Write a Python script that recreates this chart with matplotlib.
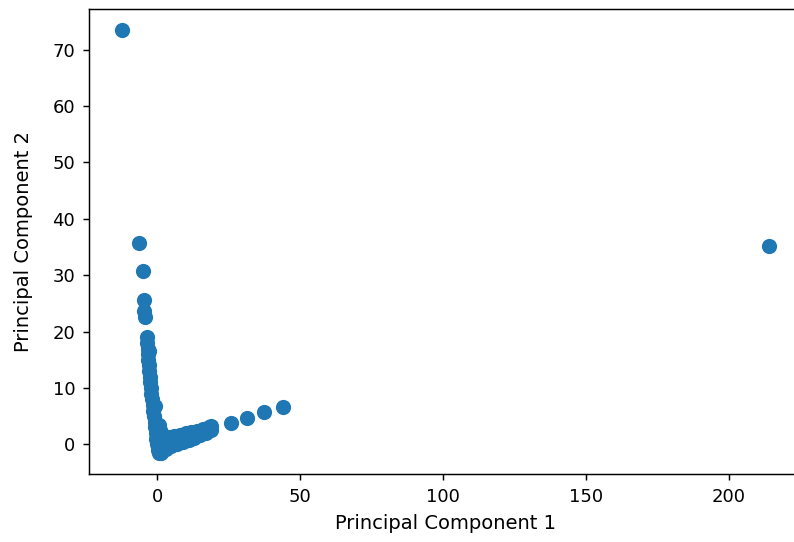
import matplotlib
matplotlib.use("Agg")
import matplotlib.pyplot as plt

# ==== data ====
outliers_x = [-12.4, 214.1, -6.5, -5.0, -4.5, -4.5, -4.4]
outliers_y = [73.4, 35.1, 35.7, 30.8, 25.6, 23.7, 22.5]

column_x = [-3.6, -3.4, -3.3, -2.8, -3.2, -3.1, -2.9, -2.7, -2.5, -2.4, -2.2, -2.0, -1.8,
            -1.6, -0.6, -1.3, -1.1, -0.9, -0.7, -0.5, -0.3, 0.0, 0.3, 0.8, 1.5]
column_y = [19.0, 18.0, 17.0, 16.5, 16.0, 15.0, 14.0, 13.0, 12.0, 11.0, 10.0, 9.0, 8.0,
            7.0, 6.8, 6.0, 5.0, 4.0, 3.0, 2.0, 1.0, 0.0, -1.0, -1.5, -1.5]

corner_x = [0.6, 0.6, 1.0, 1.5, 2.0, 1.0]
corner_y = [3.5, 2.0, 2.5, 0.5, -0.8, -1.2]

arm_x = [3, 5, 7, 9, 11, 13, 15, 17, 19,
         4, 6, 8, 10, 12, 14, 16, 18, 19,
         4, 6, 8, 10, 12, 14, 16, 18]
arm_y = [-0.8, -0.3, 0.1, 0.4, 0.8, 1.2, 1.6, 2.1, 2.5,
         1.3, 1.5, 1.7, 2.0, 2.2, 2.4, 2.7, 3.0, 3.3,
         0.3, 0.6, 0.9, 1.2, 1.5, 1.8, 2.1, 2.6]

tail_x = [25.8, 31.4, 37.4, 44.0]
tail_y = [3.8, 4.6, 5.7, 6.6]

pc1 = outliers_x + column_x + corner_x + arm_x + tail_x
pc2 = outliers_y + column_y + corner_y + arm_y + tail_y

# ==== plot ====
plt.rcParams["font.family"] = ["DejaVu Sans"]
fig = plt.figure(figsize=(7.94, 5.42), dpi=100)
ax = fig.add_axes([0.1125, 0.1255, 0.8966, 0.8574])

ax.scatter(pc1, pc2, s=120, color="#1f77b4", linewidths=0)
ax.set_xlabel("Principal Component 1", fontsize=14, labelpad=6)
ax.set_ylabel("Principal Component 2", fontsize=14, labelpad=14)
ax.tick_params(labelsize=13, length=4.6, width=1.06, pad=5.5)
for sp in ax.spines.values():
    sp.set_linewidth(1.06)

fig.savefig("out.png", dpi=100)
